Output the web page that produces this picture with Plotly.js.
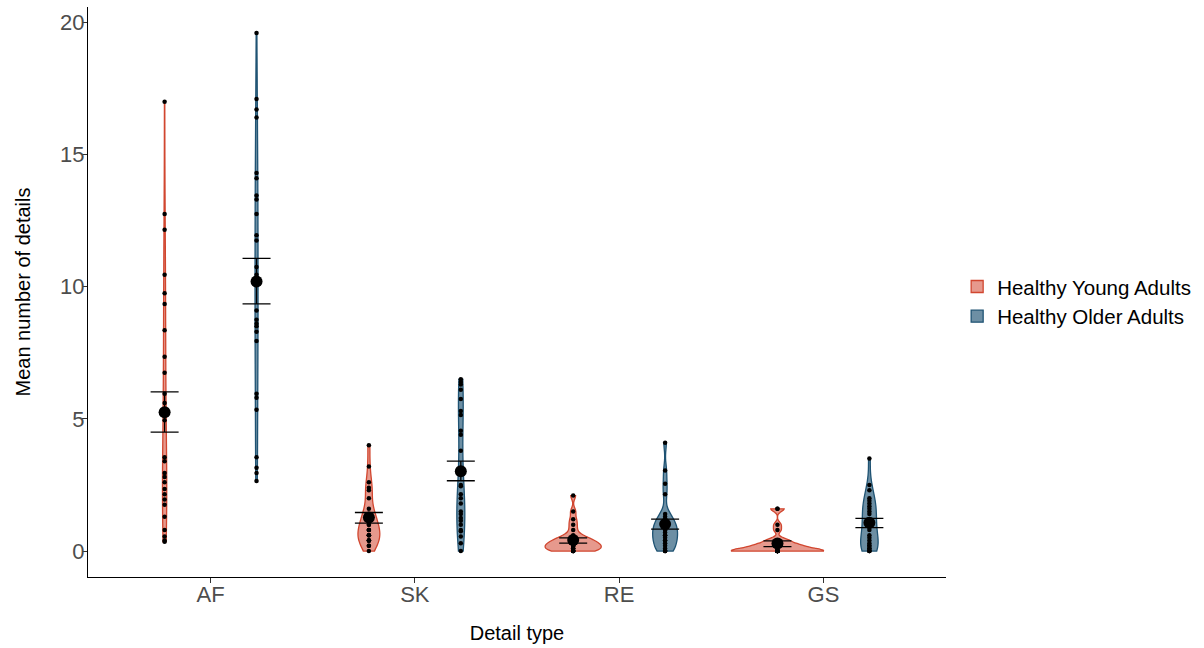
<!DOCTYPE html>
<html>
<head>
<meta charset="utf-8">
<script src="https://cdn.plot.ly/plotly-3.0.1.min.js"></script>
<style>html,body{margin:0;padding:0;background:#fff;}#chart{width:1204px;height:648px;}</style>
</head>
<body>
<div id="chart"></div>
<script>
// ---- data ----
var categories = ["AF", "SK", "RE", "GS"];
var groups = ["Healthy Young Adults", "Healthy Older Adults"];

// individual participant values, per group and detail type
var youngAF = [17, 12.75, 12.15, 10.45, 9.75, 9.35, 8.35, 7.35, 6.75, 5.95, 5.6, 4.95, 3.55, 3.4, 2.95, 2.8, 2.6, 2.35, 2.15, 1.95, 1.75, 1.3, 0.8, 0.55, 0.4, 0.35];
var youngSK = [4.0, 3.2, 2.6, 2.4, 2.3, 2.0, 1.6, 1.4, 1.4, 1.2, 1.2, 1.0, 1.0, 0.8, 0.8, 0.8, 0.6, 0.6, 0.6, 0.4, 0.4, 0.4, 0.4, 0.2, 0.2, 0];
var youngRE = [2.1, 1.5, 1.2, 1.0, 0.8, 0.6, 0.5, 0.5, 0.4, 0.4, 0.4, 0.3, 0.3, 0.3, 0.2, 0.2, 0.2, 0.2, 0.1, 0.1, 0.1, 0, 0, 0, 0, 0];
var youngGS = [1.6, 1.6, 1.0, 0.8, 0.4, 0.4, 0.4, 0.2, 0.2, 0.2, 0.2, 0.2, 0.2, 0, 0, 0, 0, 0, 0, 0, 0, 0, 0, 0, 0, 0];

var olderAF = [19.6, 17.1, 16.7, 16.4, 14.3, 14.1, 13.45, 13.3, 12.75, 11.95, 11.75, 10.75, 10.45, 9.1, 8.75, 8.6, 8.5, 8.3, 7.95, 5.95, 5.8, 5.35, 3.55, 3.15, 2.95, 2.65];
var olderSK = [6.5, 6.4, 6.3, 6.1, 5.75, 5.3, 5.15, 4.55, 4.4, 3.8, 3.0, 2.5, 2.45, 2.15, 2.0, 1.8, 1.5, 1.4, 1.25, 1.15, 1.0, 0.8, 0.75, 0.55, 0.3, 0.0];
var olderRE = [4.1, 3.05, 2.55, 2.15, 1.4, 1.3, 1.2, 1.1, 1.0, 1.0, 0.9, 0.8, 0.8, 0.7, 0.6, 0.6, 0.5, 0.4, 0.4, 0.3, 0.2, 0.1, 0, 0, 0];
var olderGS = [3.5, 2.5, 2.3, 2.0, 1.9, 1.8, 1.7, 1.6, 1.5, 1.4, 1.2, 1.1, 1.0, 0.9, 0.8, 0.6, 0.5, 0.4, 0.3, 0.2, 0.2, 0.1, 0.1, 0, 0, 0];

// group means and error-bar limits per detail type (AF, SK, RE, GS)
var youngMean = [5.25, 1.27, 0.42, 0.29];
var youngLow  = [4.50, 1.06, 0.30, 0.17];
var youngHigh = [6.02, 1.46, 0.50, 0.39];
var olderMean = [10.2, 3.02, 1.02, 1.07];
var olderLow  = [9.35, 2.66, 0.83, 0.89];
var olderHigh = [11.07, 3.40, 1.21, 1.24];

var youngValues = [youngAF, youngSK, youngRE, youngGS];
var olderValues = [olderAF, olderSK, olderRE, olderGS];

// ---- styles ----
var lineColors = ["#D1462F", "#1F5373"];
var fillColors = ["rgba(209,70,47,0.55)", "rgba(31,83,115,0.65)"];
var offsetKeys = ["young", "older"];
// smoothing overrides (kernel bandwidth) where the picture shows a smoother shape
var bandwidthOverride = { young: { GS: 0.1 }, older: {} };

// R's nrd0 bandwidth (ggplot default)
function quantile7(sorted, p) {
  var h = (sorted.length - 1) * p, lo = Math.floor(h), hi = Math.ceil(h);
  return sorted[lo] + (h - lo) * (sorted[hi] - sorted[lo]);
}
function nrd0(v) {
  var n = v.length, m = v.reduce(function (a, b) { return a + b; }, 0) / n;
  var sd = Math.sqrt(v.reduce(function (a, b) { return a + (b - m) * (b - m); }, 0) / (n - 1));
  var s = v.slice().sort(function (a, b) { return a - b; });
  var iqr = quantile7(s, 0.75) - quantile7(s, 0.25);
  var lo = Math.min(sd, iqr / 1.34);
  if (!lo) lo = sd || Math.abs(s[0]) || 1;
  return 0.9 * lo * Math.pow(n, -0.2);
}

var traces = [];
[youngValues, olderValues].forEach(function (vals, g) {
  categories.forEach(function (cat, c) {
    var bw = bandwidthOverride[offsetKeys[g]][cat] || nrd0(vals[c]);
    traces.push({
      type: "violin",
      name: groups[g],
      legendgroup: groups[g],
      showlegend: c === 0,
      x: vals[c].map(function () { return cat; }),
      y: vals[c],
      offsetgroup: offsetKeys[g],
      alignmentgroup: "all",
      scalegroup: "all",
      scalemode: "width",
      spanmode: "hard",
      bandwidth: bw,
      line: { color: lineColors[g], width: 1.3 },
      fillcolor: fillColors[g],
      points: "all",
      pointpos: 0,
      jitter: 0,
      marker: { color: "#000", size: 4.5, line: { width: 0 } },
      box: { visible: false },
      meanline: { visible: false },
      hoverinfo: "skip"
    });
  });
});

var means = [youngMean, olderMean], lows = [youngLow, olderLow], highs = [youngHigh, olderHigh];
[0, 1].forEach(function (g) {
  traces.push({
    type: "scatter",
    mode: "markers",
    x: categories,
    y: means[g],
    offsetgroup: offsetKeys[g],
    alignmentgroup: "all",
    orientation: "v",
    showlegend: false,
    marker: { color: "#000", size: 12 },
    error_y: {
      type: "data", symmetric: false,
      array: highs[g].map(function (h, i) { return h - means[g][i]; }),
      arrayminus: lows[g].map(function (l, i) { return means[g][i] - l; }),
      color: "#000", thickness: 1.3, width: 14
    },
    hoverinfo: "skip"
  });
});

var layout = {
  width: 1204, height: 648,
  margin: { l: 88, r: 258, t: 7, b: 71 },
  paper_bgcolor: "#fff", plot_bgcolor: "#fff",
  font: { family: "Liberation Sans, Arial, sans-serif", color: "#000" },
  violinmode: "group", violingap: 0.1, violingroupgap: 0,
  scattermode: "group", scattergap: 0.1,
  showlegend: true,
  legend: {
    x: 1.013, xanchor: "left", y: 0.483, yanchor: "middle",
    font: { size: 20.5, color: "#000" }, tracegroupgap: 0, itemwidth: 30
  },
  xaxis: {
    type: "category", categoryorder: "array", categoryarray: categories,
    range: [-0.6, 3.6],
    showgrid: false, zeroline: false,
    showline: true, linecolor: "#000", linewidth: 1.2,
    ticks: "outside", ticklen: 5, tickcolor: "#333", tickwidth: 1.1,
    ticklabelstandoff: -8,
    tickfont: { size: 22, color: "#4D4D4D" },
    title: { text: "Detail type", font: { size: 20, color: "#000" }, standoff: 20 }
  },
  yaxis: {
    range: [-0.98, 20.58],
    tickvals: [0, 5, 10, 15, 20],
    showgrid: false, zeroline: false,
    showline: true, linecolor: "#000", linewidth: 1.2,
    ticks: "outside", ticklen: 5, tickcolor: "#333", tickwidth: 1.1,
    ticklabelstandoff: -7,
    tickfont: { size: 22, color: "#4D4D4D" },
    title: { text: "Mean number of details", font: { size: 20, color: "#000" }, standoff: 24 }
  }
};

Plotly.newPlot("chart", traces, layout, { displayModeBar: false, staticPlot: true });
</script>
</body>
</html>
